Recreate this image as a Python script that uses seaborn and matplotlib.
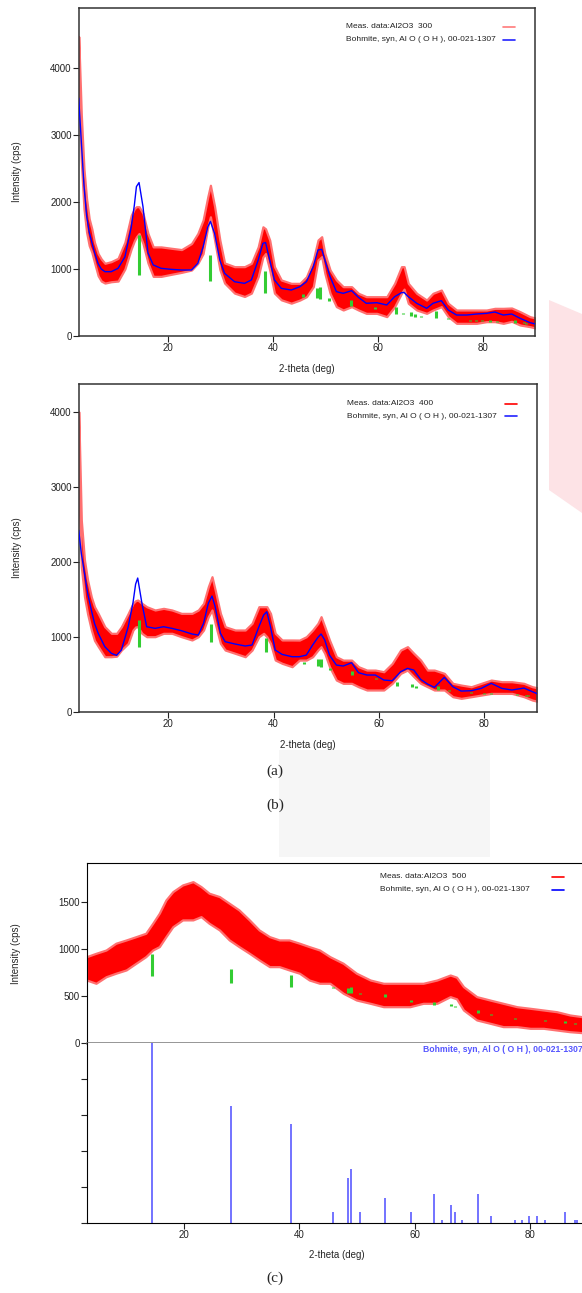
import numpy as np
import pandas as pd
import matplotlib.pyplot as plt
import seaborn as sns
from matplotlib.lines import Line2D
from matplotlib.patches import Polygon, Rectangle

sns.set_style("white")
plt.rcParams['font.family'] = ['Liberation Sans', 'DejaVu Sans']

# === REFERENCE CARD: Bohmite 00-021-1307 (2-theta, rel. intensity %) ===
stick_deg = [14.4, 28.1, 38.5, 45.8, 48.5, 48.9, 50.6, 54.9, 59.4, 63.4, 64.8, 66.3,
             67.0, 68.2, 71.1, 73.3, 77.5, 78.7, 79.9, 81.3, 82.7, 86.2, 87.9, 88.3]
stick_int = [100, 65, 55, 6, 25, 30, 6, 14, 6, 16, 2, 10,
             6, 2, 16, 4, 2, 2, 4, 4, 2, 6, 2, 2]

# === (a) Al2O3 300 ===
a_deg = [3.0, 3.5, 4.0, 4.5, 5.0, 5.5, 6.0, 6.7, 7.3, 8.0, 9.2, 10.5, 11.8, 13.0, 13.6,
         14.0, 14.5, 15.25, 16.2, 17.2, 18.7, 20.6, 22.6, 24.5, 25.7, 26.7, 27.6, 28.1,
         28.9, 29.9, 30.8, 32.7, 34.6, 35.9, 37.2, 38.1, 38.6, 39.4, 40.3, 41.6, 43.5,
         45.15, 46.4, 47.7, 48.6, 49.3, 49.9, 50.9, 52.1, 53.4, 55.0, 56.3, 57.8, 59.8,
         61.7, 63.2, 64.5, 65.0, 65.8, 67.4, 69.3, 70.5, 72.1, 73.4, 75.0, 76.9, 78.8,
         80.7, 82.3, 83.9, 85.5, 87.1, 89.0, 90.0]
a_lo = [3700, 2600, 1900, 1550, 1350, 1250, 1100, 900, 820, 790, 810, 820, 1000, 1300, 1420,
        1480, 1530, 1380, 1090, 890, 890, 920, 950, 985, 1085, 1230, 1630, 1780,
        1430, 990, 790, 640, 590, 640, 885, 1180, 1230, 985, 640, 540, 490,
        537, 587, 736, 1134, 1184, 935, 637, 438, 388, 438, 388, 338, 338,
        289, 438, 637, 700, 488, 388, 338, 388, 438, 289, 189, 189, 189,
        214, 214, 189, 219, 164, 139, 120]
a_hi = [4470, 3300, 2500, 2050, 1750, 1600, 1400, 1230, 1150, 1085, 1110, 1160, 1400, 1800, 1900,
        1930, 1930, 1830, 1530, 1330, 1330, 1310, 1290, 1380, 1530, 1730, 2080, 2250,
        1930, 1430, 1090, 1035, 1035, 1085, 1330, 1630, 1600, 1430, 1035, 836, 786,
        786, 885, 1134, 1433, 1482, 1234, 985, 836, 736, 736, 637, 587, 587,
        587, 786, 1035, 1035, 786, 637, 537, 637, 686, 488, 388, 388, 388,
        388, 413, 413, 418, 363, 288, 270]
a_fit = [3550, 2900, 2250, 1800, 1550, 1400, 1250, 1080, 1000, 960, 960, 1010, 1180, 1620, 1950,
         2230, 2290, 1930, 1240, 1060, 1010, 995, 985, 985, 1085, 1330, 1630, 1710,
         1530, 1130, 935, 810, 786, 836, 1134, 1383, 1395, 1134, 836, 711, 686,
         736, 811, 1035, 1284, 1294, 1134, 886, 662, 637, 677, 577, 488, 497,
         463, 587, 647, 650, 587, 488, 413, 488, 527, 388, 313, 313, 328,
         338, 358, 313, 328, 264, 199, 180]
a_green_base = [910, 825, 646, 587, 560, 547, 527, 448, 400, 330, 330, 300,
                290, 280, 270, 250, 230, 225, 220, 215, 210, 200, 190, 185]

# === (b) Al2O3 400 ===
b_deg = [3.0, 3.5, 4.1, 4.7, 5.4, 6.0, 6.7, 7.95, 9.2, 10.2, 11.1, 12.4, 13.3, 13.8, 14.2,
         15.0, 15.9, 17.5, 19.1, 20.7, 22.5, 24.5, 25.7, 26.7, 27.6, 28.3, 28.9, 29.9,
         30.8, 32.7, 34.6, 35.9, 37.2, 38.1, 38.7, 39.4, 40.3, 41.6, 43.5, 44.9, 46.2,
         47.4, 48.4, 49.0, 49.7, 50.6, 51.9, 53.2, 54.8, 56.1, 57.7, 59.3, 60.9, 62.5,
         64.1, 65.4, 66.6, 67.9, 69.2, 70.5, 72.4, 74.0, 75.6, 77.5, 79.4, 81.3, 83.3,
         85.2, 87.5, 89.1, 90.0]
b_lo = [3000, 1930, 1530, 1300, 1090, 950, 870, 733, 733, 740, 822, 911, 1089, 1130, 1133,
        1045, 1000, 1000, 1045, 1045, 1000, 956, 1000, 1089, 1267, 1356, 1178, 911,
        822, 778, 733, 822, 1000, 1045, 1000, 911, 689, 645, 600, 688, 688,
        733, 822, 867, 778, 600, 422, 378, 378, 333, 289, 289, 289, 378,
        511, 555, 467, 378, 333, 289, 289, 200, 178, 200, 222, 244, 244,
        244, 200, 155, 140]
b_hi = [4000, 2550, 2020, 1750, 1530, 1400, 1310, 1133, 1045, 1045, 1133, 1311, 1445, 1480, 1489,
        1445, 1400, 1356, 1378, 1356, 1311, 1311, 1356, 1445, 1667, 1800, 1622, 1311,
        1133, 1089, 1089, 1178, 1400, 1400, 1400, 1311, 1045, 956, 956, 955, 1000,
        1089, 1178, 1267, 1133, 955, 733, 688, 688, 600, 555, 555, 533, 644,
        822, 867, 778, 688, 555, 555, 511, 378, 355, 333, 378, 422, 400,
        400, 378, 333, 320]
b_fit = [2420, 2110, 1845, 1578, 1356, 1178, 1045, 867, 778, 751, 822, 1133, 1450, 1700, 1782,
         1445, 1133, 1111, 1133, 1111, 1080, 1036, 1022, 1178, 1445, 1542, 1400, 1045,
         933, 902, 876, 889, 1133, 1289, 1333, 1133, 822, 764, 733, 733, 755,
         889, 991, 1036, 956, 755, 622, 609, 653, 520, 489, 489, 422, 413,
         533, 578, 555, 431, 369, 324, 458, 333, 275, 280, 311, 378, 311,
         289, 315, 267, 240]
b_green_base = [867, 933, 791, 640, 609, 591, 560, 489, 431, 342, 340, 330,
                320, 310, 289, 270, 250, 245, 240, 235, 230, 220, 215, 210]

# === (c) Al2O3 500 ===
c_deg = [3.0, 4.65, 6.4, 8.1, 9.9, 11.6, 13.3, 14.5, 15.65, 16.8, 18.0, 19.7, 21.5, 22.9,
         24.3, 26.1, 27.8, 29.5, 31.3, 33.0, 34.8, 36.5, 38.2, 40.0, 41.7, 43.5, 45.3,
         47.6, 49.9, 52.3, 54.6, 56.9, 59.2, 61.5, 63.9, 66.2, 67.3, 68.5, 70.8, 73.1,
         75.4, 77.8, 80.1, 82.4, 84.7, 87.0, 89.1, 90.0]
c_lo = [670, 635, 705, 742, 777, 848, 918, 989, 1025, 1131, 1237, 1309, 1309, 1344,
        1273, 1202, 1096, 1025, 954, 883, 812, 812, 777, 742, 670, 635, 635,
        529, 457, 422, 386, 386, 386, 422, 422, 493, 470, 351, 245, 210,
        174, 174, 156, 156, 138, 120, 110, 100]
c_hi = [918, 954, 989, 1061, 1096, 1131, 1167, 1273, 1380, 1521, 1610, 1681, 1716, 1663,
        1593, 1557, 1486, 1415, 1309, 1202, 1131, 1096, 1096, 1061, 1025, 989, 918,
        848, 742, 670, 635, 635, 635, 635, 670, 723, 700, 599, 493, 457,
        422, 386, 369, 351, 333, 298, 280, 270]
c_green_base = [713, 642, 599, 583, 529, 529, 520, 486, 440, 404, 400, 390,
                380, 370, 316, 300, 260, 255, 250, 240, 235, 215, 205, 200]

W, H = 582, 1293
fig = plt.figure(figsize=(W / 100, H / 100), dpi=100)


def px_axes(left, top, right, bottom):
    return fig.add_axes([left / W, 1 - bottom / H, (right - left) / W, (bottom - top) / H])


# background artefacts of the scanned page
fig.patches.append(Polygon([[549 / W, 1 - 300 / H], [582 / W, 1 - 314 / H],
                            [582 / W, 1 - 513 / H], [549 / W, 1 - 490 / H]],
                           closed=True, transform=fig.transFigure, facecolor='#fde3e6',
                           edgecolor='none', zorder=0))
fig.patches.append(Rectangle((279 / W, 1 - 857 / H), 211 / W, 107 / H, transform=fig.transFigure,
                             facecolor='#f6f6f6', edgecolor='none', zorder=0))

GREEN = '#33cc33'
RED = '#ff0000'
BLUE = '#0000ff'
tick_kw = dict(labelsize=7, length=4, width=0.8, pad=1, colors='#222222')


def xrd_panel(ax, deg, lo, hi, fit, base, scale, ymax, yticks):
    ax.fill_between(deg, lo, hi, color=RED, edgecolor='#ff7070', linewidth=1.6, zorder=2)
    if fit is not None:
        sns.lineplot(data=pd.DataFrame({'deg': deg, 'fit': fit}), x='deg', y='fit',
                     ax=ax, color=BLUE, linewidth=1.0, zorder=4)
    tops = [b + i * scale for b, i in zip(base, stick_int)]
    ax.vlines(stick_deg, base, tops, color=GREEN, linewidth=2.2, zorder=3)
    ax.set_xlim(3, 90)
    ax.set_ylim(0, ymax)
    ax.set_yticks(yticks)
    ax.set_yticklabels([str(t) for t in yticks])
    ax.tick_params(axis='y', direction='out', left=True, **tick_kw)


def legend_px(x_text, x_h0, x_h1, y_rows, labels, colors):
    # legend text left-aligned, line sample to the right (as in the instrument software)
    for lab, col, y in zip(labels, colors, y_rows):
        fig.text(x_text / W, 1 - y / H, lab, ha='left', va='center', fontsize=6, color='#222222')
        fig.add_artist(Line2D([x_h0 / W, x_h1 / W], [1 - y / H, 1 - y / H],
                              transform=fig.transFigure, color=col, lw=1.2))


card = 'Bohmite, syn, Al O ( O H ), 00-021-1307'

# ---- (a) ----
ax_a = px_axes(78.7, 7.5, 535.3, 336)
xrd_panel(ax_a, a_deg, a_lo, a_hi, a_fit, a_green_base, 6.0, 4903, [0, 1000, 2000, 3000, 4000])
legend_px(346, 503, 515, [27, 39.5], ['Meas. data:Al2O3  300', card], ['#ff7a7a', '#2222ff'])
ax_a.set_xticks([20, 40, 60, 80])
ax_a.tick_params(axis='x', direction='out', bottom=True, **tick_kw)
ax_a.set_xlabel('2-theta (deg)', fontsize=7, labelpad=8)
ax_a.set_ylabel('Intensity (cps)', fontsize=7, labelpad=20)
for s in ax_a.spines.values():
    s.set_color('#333333')
    s.set_linewidth(1.1)

# ---- (b) ----
ax_b = px_axes(78.7, 384.3, 537.1, 711.7)
xrd_panel(ax_b, b_deg, b_lo, b_hi, b_fit, b_green_base, 3.56, 4365, [0, 1000, 2000, 3000, 4000])
legend_px(347, 505, 517, [403.5, 416], ['Meas. data:Al2O3  400', card], [RED, '#2222ff'])
ax_b.set_xticks([20, 40, 60, 80])
ax_b.tick_params(axis='x', direction='out', bottom=True, **tick_kw)
ax_b.set_xlabel('2-theta (deg)', fontsize=7, labelpad=8)
ax_b.set_ylabel('Intensity (cps)', fontsize=7, labelpad=20)
for s in ax_b.spines.values():
    s.set_color('#333333')
    s.set_linewidth(1.1)

# ---- (c) upper: measured pattern ----
ax_c = px_axes(86.5, 863.3, 587.2, 1043)
xrd_panel(ax_c, c_deg, c_lo, c_hi, None, c_green_base, 2.31, 1911, [0, 500, 1000, 1500])
legend_px(380, 552, 564, [876.5, 889.5], ['Meas. data:Al2O3  500', card], [RED, BLUE])
ax_c.set_xticks([])
ax_c.set_ylabel('Intensity (cps)', fontsize=7, labelpad=27)
ax_c.spines['right'].set_visible(False)
ax_c.spines['top'].set_color('black')
ax_c.spines['left'].set_color('black')
ax_c.spines['bottom'].set_color('#777777')
ax_c.spines['bottom'].set_linewidth(1.8)
ax_c.spines['bottom'].set_zorder(5)

# ---- (c) lower: reference stick pattern ----
ax_s = px_axes(86.5, 1043, 587.2, 1223.3)
ax_s.vlines(stick_deg, 0, stick_int, color='#4d4dff', linewidth=1.1)
ax_s.set_xlim(3, 90)
ax_s.set_ylim(0, 100)
ax_s.set_yticks([0, 20, 40, 60, 80])
ax_s.set_yticklabels([])
ax_s.set_xticks([20, 40, 60, 80])
ax_s.tick_params(axis='both', direction='out', left=True, bottom=True, **tick_kw)
ax_s.set_xlabel('2-theta (deg)', fontsize=7, labelpad=7)
ax_s.spines['top'].set_visible(False)
ax_s.spines['right'].set_visible(False)
ax_s.spines['left'].set_color('black')
ax_s.spines['bottom'].set_color('black')
ax_s.text(583 / W, 1 - 1049 / H, card, transform=fig.transFigure,
          ha='right', va='center', fontsize=6.2, color='#5555ff', fontweight='bold')

# ---- captions ----
for txt, y in [('(a)', 771), ('(b)', 805), ('(c)', 1278)]:
    fig.text(275 / W, 1 - y / H, txt, ha='center', va='center', fontsize=11,
             family=['Liberation Serif', 'DejaVu Serif'])

fig.savefig('out.png', dpi=100)
